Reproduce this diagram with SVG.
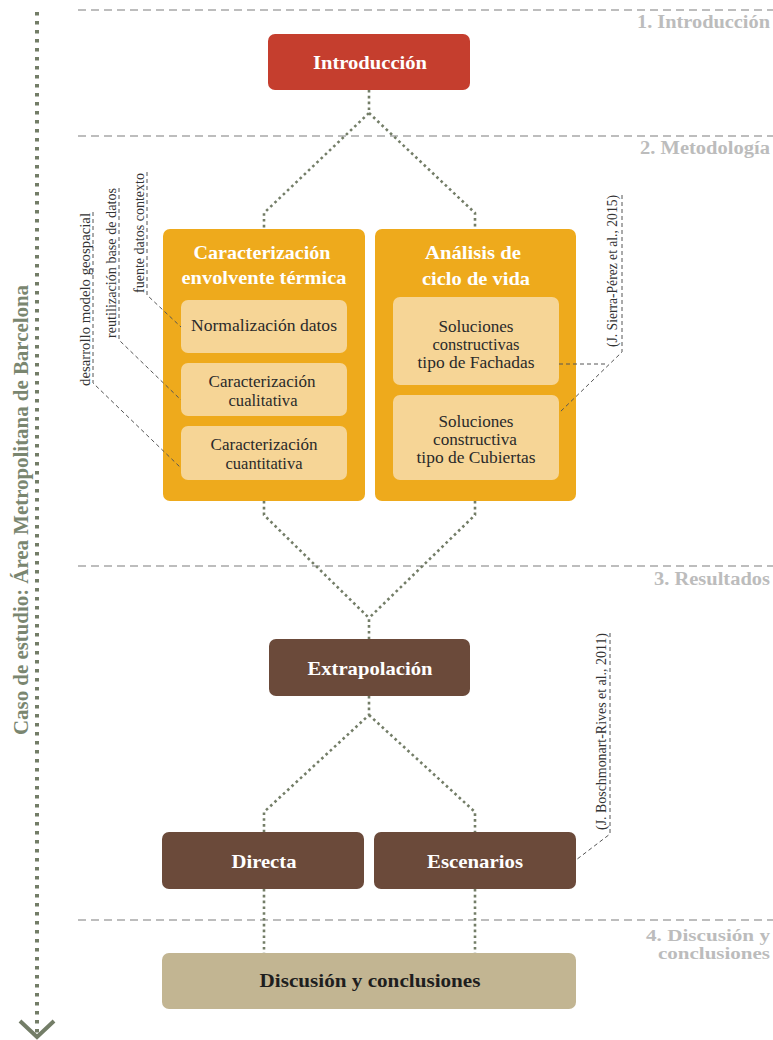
<svg xmlns="http://www.w3.org/2000/svg" width="773" height="1040" viewBox="0 0 773 1040">
<style>
text{font-family:"Liberation Serif","Times New Roman",serif}
.sec{fill:#bcbcbc;font-weight:bold;font-size:18px;text-anchor:end}
.sec2{fill:#bcbcbc;font-weight:bold;font-size:16px;text-anchor:end}
.title{fill:#fff;font-weight:bold;font-size:19px;text-anchor:middle}
.sub{fill:#2a2a2a;font-size:16px;text-anchor:middle}
.ann{fill:#333;font-size:14px}
.hl{stroke:#bdbdbd;stroke-width:2;stroke-dasharray:8 5;fill:none}
.con{stroke:#737d67;stroke-width:2.6;stroke-dasharray:2.6 3.2;fill:none}
.ad{stroke:#555;stroke-width:1;stroke-dasharray:4 3;fill:none}
.orange{fill:#eeaa1c}
.light{fill:#f6d596}
.brown{fill:#6b4a3a}
</style>
<g id="sections">
<line class="hl" x1="78" y1="10" x2="773" y2="10"/>
<line class="hl" x1="78" y1="136" x2="773" y2="136"/>
<line class="hl" x1="78" y1="566" x2="773" y2="566"/>
<line class="hl" x1="78" y1="920" x2="773" y2="920"/>
<text class="sec" x="770" y="28" textLength="133" lengthAdjust="spacingAndGlyphs">1. Introducción</text>
<text class="sec" x="770" y="154" textLength="130" lengthAdjust="spacingAndGlyphs">2. Metodología</text>
<text class="sec" x="770" y="585" textLength="116" lengthAdjust="spacingAndGlyphs">3. Resultados</text>
<text class="sec2" x="770" y="941" textLength="124" lengthAdjust="spacingAndGlyphs">4. Discusión y</text>
<text class="sec2" x="770" y="959" textLength="112" lengthAdjust="spacingAndGlyphs">conclusiones</text>
</g>
<g id="case-axis">
<line x1="37" y1="12" x2="37" y2="1034" stroke="#737d67" stroke-width="4" stroke-dasharray="3.5 5.5"/>
<polyline points="20,1021 37,1037 54,1021" fill="none" stroke="#737d67" stroke-width="4"/>
<text transform="translate(28,735) rotate(-90)" fill="#7a8670" font-size="20" font-weight="bold" textLength="450" lengthAdjust="spacingAndGlyphs">Caso de estudio: Área Metropolitana de Barcelona</text>
</g>
<g id="connectors">
<path class="con" d="M369,90 V113 L264,213 V229"/>
<path class="con" d="M369,113 L475,213 V229"/>
<path class="con" d="M264,501 V515 L369,618 V639"/>
<path class="con" d="M475,501 V515 L369,618"/>
<path class="con" d="M369,696 V715 L264,812 V832"/>
<path class="con" d="M369,715 L475,812 V832"/>
<path class="con" d="M264,889 V953"/>
<path class="con" d="M475,889 V953"/>
</g>
<g id="introduccion">
<rect x="268" y="34" width="202" height="56" rx="7" fill="#c53e2e"/>
<text class="title" x="370" y="69" textLength="114" lengthAdjust="spacingAndGlyphs">Introducción</text>
</g>
<g id="caracterizacion">
<rect class="orange" x="163" y="229" width="202" height="272" rx="7"/>
<text class="title" x="262" y="259" textLength="137" lengthAdjust="spacingAndGlyphs">Caracterización</text>
<text class="title" x="264" y="284" textLength="165" lengthAdjust="spacingAndGlyphs">envolvente térmica</text>
</g>
<g id="normalizacion">
<rect class="light" x="181" y="300" width="166" height="53" rx="7"/>
<text class="sub" x="264" y="331" textLength="146" lengthAdjust="spacingAndGlyphs">Normalización datos</text>
</g>
<g id="cualitativa">
<rect class="light" x="181" y="363" width="166" height="53" rx="7"/>
<text class="sub" x="262" y="387" textLength="107" lengthAdjust="spacingAndGlyphs">Caracterización</text>
<text class="sub" x="263" y="406" textLength="69" lengthAdjust="spacingAndGlyphs">cualitativa</text>
</g>
<g id="cuantitativa">
<rect class="light" x="181" y="426" width="166" height="54" rx="7"/>
<text class="sub" x="264" y="450" textLength="107" lengthAdjust="spacingAndGlyphs">Caracterización</text>
<text class="sub" x="264" y="469" textLength="77" lengthAdjust="spacingAndGlyphs">cuantitativa</text>
</g>
<g id="acv">
<rect class="orange" x="375" y="229" width="201" height="272" rx="7"/>
<text class="title" x="473" y="259" textLength="96" lengthAdjust="spacingAndGlyphs">Análisis de</text>
<text class="title" x="476" y="285" textLength="108" lengthAdjust="spacingAndGlyphs">ciclo de vida</text>
</g>
<g id="fachadas">
<rect class="light" x="393" y="297" width="166" height="88" rx="7"/>
<text class="sub" x="476" y="332" textLength="75" lengthAdjust="spacingAndGlyphs">Soluciones</text>
<text class="sub" x="476" y="350" textLength="87" lengthAdjust="spacingAndGlyphs">constructivas</text>
<text class="sub" x="476" y="368" textLength="117" lengthAdjust="spacingAndGlyphs">tipo de Fachadas</text>
</g>
<g id="cubiertas">
<rect class="light" x="393" y="395" width="166" height="85" rx="7"/>
<text class="sub" x="476" y="427" textLength="75" lengthAdjust="spacingAndGlyphs">Soluciones</text>
<text class="sub" x="475" y="445" textLength="84" lengthAdjust="spacingAndGlyphs">constructiva</text>
<text class="sub" x="476" y="463" textLength="119" lengthAdjust="spacingAndGlyphs">tipo de Cubiertas</text>
</g>
<g id="extrapolacion">
<rect class="brown" x="269" y="639" width="201" height="57" rx="7"/>
<text class="title" x="370" y="675" textLength="125" lengthAdjust="spacingAndGlyphs">Extrapolación</text>
</g>
<g id="directa">
<rect class="brown" x="162" y="832" width="202" height="57" rx="7"/>
<text class="title" x="264" y="868" textLength="65" lengthAdjust="spacingAndGlyphs">Directa</text>
</g>
<g id="escenarios">
<rect class="brown" x="374" y="832" width="202" height="57" rx="7"/>
<text class="title" x="475" y="868" textLength="96" lengthAdjust="spacingAndGlyphs">Escenarios</text>
</g>
<g id="discusion">
<rect x="162" y="953" width="414" height="56" rx="7" fill="#c2b592"/>
<text x="370" y="987" text-anchor="middle" fill="#1e1e1e" font-size="19" font-weight="bold" textLength="221" lengthAdjust="spacingAndGlyphs">Discusión y conclusiones</text>
</g>
<g id="annotations">
<path class="ad" d="M93,212 V383 L181,468"/>
<text class="ann" transform="translate(90,386) rotate(-90)" textLength="173" lengthAdjust="spacingAndGlyphs">desarrollo modelo geospacial</text>
<path class="ad" d="M119,188 V340 L181,400"/>
<text class="ann" transform="translate(116,338) rotate(-90)" textLength="150" lengthAdjust="spacingAndGlyphs">reutilización base de datos</text>
<path class="ad" d="M147,172 V295 L181,327"/>
<text class="ann" transform="translate(144,293) rotate(-90)" textLength="120" lengthAdjust="spacingAndGlyphs">fuente datos contexto</text>
<path class="ad" d="M622,195 V352 L559,413 M559,364 H608"/>
<text class="ann" transform="translate(617,347) rotate(-90)" textLength="152" lengthAdjust="spacingAndGlyphs">(J. Sierra-Pérez et al., 2015)</text>
<path class="ad" d="M610,633 V834 L576,860"/>
<text class="ann" transform="translate(606,830) rotate(-90)" textLength="197" lengthAdjust="spacingAndGlyphs">(J. Boschmonart-Rives et al., 2011)</text>
</g>
</svg>
